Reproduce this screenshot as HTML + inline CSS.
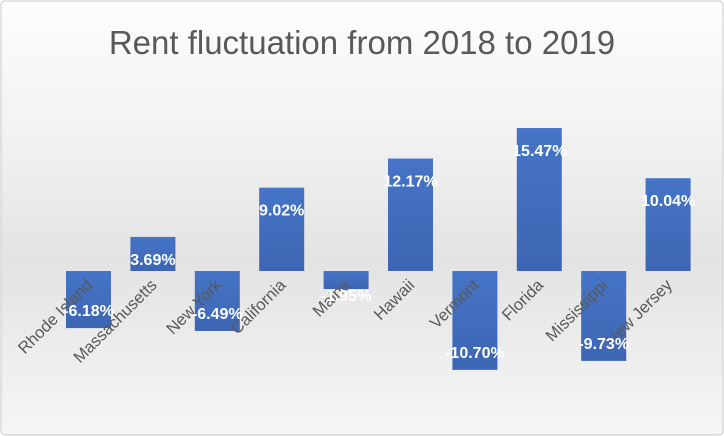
<!DOCTYPE html>
<html><head><meta charset="utf-8"><style>
body{margin:0;background:#fff}
svg{display:block;font-family:"Liberation Sans",Arial,sans-serif}
</style></head><body>
<svg width="724" height="436" viewBox="0 0 724 436">
<defs>
<linearGradient id="bg" x1="0" y1="0" x2="0" y2="1">
<stop offset="0" stop-color="#fdfdfd"/><stop offset="0.35" stop-color="#f0f0f0"/><stop offset="0.6" stop-color="#e3e3e3"/><stop offset="1" stop-color="#f6f6f6"/>
</linearGradient>
<linearGradient id="bar" x1="0" y1="0" x2="0" y2="1">
<stop offset="0" stop-color="#4674c6"/><stop offset="1" stop-color="#3c66b3"/>
</linearGradient>
</defs>
<rect x="1" y="1" width="722" height="434" rx="4" fill="url(#bg)" stroke="#c8c8c8"/>
<text x="362" y="54" text-anchor="middle" font-size="33" fill="#595959">Rent fluctuation from 2018 to 2019</text>
<g id="bars"></g><g id="cats"></g><g id="vals"></g>
</svg>
<script>
const categories=["Rhode Island","Massachusetts","New York","California","Maine","Hawaii","Vermont","Florida","Mississippi","New Jersey"];
const values=[-6.18,3.69,-6.49,9.02,-1.95,12.17,-10.70,15.47,-9.73,10.04];
const valueLabels=["-6.18%","3.69%","-6.49%","9.02%","-1.95%","12.17%","-10.70%","15.47%","-9.73%","10.04%"];
const NS="http://www.w3.org/2000/svg";
const left=56.3,step=64.4,bw=45,zeroY=271,ppu=9.24;
const x=i=>left+step*i+step/2;
const y=v=>zeroY-v*ppu;
const gb=document.getElementById('bars'),gc=document.getElementById('cats'),gv=document.getElementById('vals');
categories.forEach((c,i)=>{
 const v=values[i],cx=x(i);
 const r=document.createElementNS(NS,'rect');
 r.setAttribute('x',cx-bw/2);r.setAttribute('width',bw);
 r.setAttribute('y',Math.min(y(v),zeroY));r.setAttribute('height',Math.abs(y(v)-zeroY));
 r.setAttribute('fill','url(#bar)');
 
 
 gb.appendChild(r);
 const t=document.createElementNS(NS,'text');
 t.setAttribute('x',cx+5);t.setAttribute('y',286);
 t.setAttribute('text-anchor','end');t.setAttribute('font-size','16.5');t.setAttribute('fill','#595959');
 t.setAttribute('transform','rotate(-45 '+(cx+5)+' 286)');
 t.textContent=c;
 
 
 gc.appendChild(t);
 const l=document.createElementNS(NS,'text');
 const ly=v>=0?y(v)+28:Math.max(y(v)-12,zeroY+30);
 l.setAttribute('x',cx);l.setAttribute('y',ly);
 l.setAttribute('text-anchor','middle');l.setAttribute('font-size','16');l.setAttribute('font-weight','bold');l.setAttribute('fill','#fff');
 l.textContent=valueLabels[i];
 
 
 gv.appendChild(l);
});
</script>
</body></html>
